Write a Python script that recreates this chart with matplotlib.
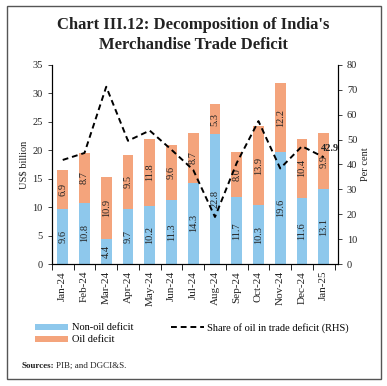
import numpy as np
import matplotlib.pyplot as plt
from matplotlib.patches import Rectangle

months = ['Jan-24', 'Feb-24', 'Mar-24', 'Apr-24', 'May-24', 'Jun-24', 'Jul-24',
          'Aug-24', 'Sep-24', 'Oct-24', 'Nov-24', 'Dec-24', 'Jan-25']
non_oil = [9.6, 10.8, 4.4, 9.7, 10.2, 11.3, 14.3, 22.8, 11.7, 10.3, 19.6, 11.6, 13.1]
oil = [6.9, 8.7, 10.9, 9.5, 11.8, 9.6, 8.7, 5.3, 8.0, 13.9, 12.2, 10.4, 9.9]
oil_share = [41.8, 44.6, 71.2, 49.5, 53.6, 45.9, 37.8, 18.9, 40.6, 57.4, 38.4, 47.3, 42.9]

plt.rcParams['font.family'] = ['Liberation Serif', 'DejaVu Serif']

blue = '#8ec8ec'
orange = '#f4a47c'
txt = '#222222'

fig = plt.figure(figsize=(3.87, 3.86), dpi=100)
fig.patches.append(Rectangle((0.018, 0.018), 0.967, 0.966, transform=fig.transFigure,
                             fill=False, edgecolor='#555555', lw=1.0))

fig.text(0.5, 0.91, "Chart III.12: Decomposition of India's\nMerchandise Trade Deficit",
         ha='center', va='center', fontsize=12, fontweight='bold', color=txt,
         linespacing=1.3)

ax = fig.add_axes([0.134, 0.316, 0.739, 0.516])
x = np.arange(len(months))
b1 = ax.bar(x, non_oil, width=0.5, color=blue, label='Non-oil deficit')
b2 = ax.bar(x, oil, width=0.5, bottom=non_oil, color=orange, label='Oil deficit')
ax.bar_label(b1, labels=[f'{v:.1f}' for v in non_oil], label_type='center',
             rotation=90, fontsize=7.5, color=txt)
ax.bar_label(b2, labels=[f'{v:.1f}' for v in oil], label_type='center',
             rotation=90, fontsize=7.5, color=txt)

ax.set_xlim(-0.5, 12.65)
ax.set_ylim(0, 35)
ax.set_yticks(range(0, 36, 5))
ax.set_xticks(x)
ax.set_xticklabels(months, rotation=90, fontsize=8, color=txt)
ax.set_xticks(np.arange(-0.5, 12.6, 1), minor=True)
ax.tick_params(axis='x', which='major', length=0, pad=5)
ax.tick_params(axis='x', which='minor', length=4, width=0.6, direction='out')
ax.tick_params(axis='y', labelsize=7.5, length=3, width=0.6, colors=txt)
ax.set_ylabel('US$ billion', fontsize=7.5, color=txt, labelpad=3)
ax.spines['top'].set_visible(False)
for s in ['left', 'bottom', 'right']:
    ax.spines[s].set_linewidth(0.8)

ax2 = ax.twinx()
ln, = ax2.plot(x, oil_share, color='black', ls='--', lw=1.4, dashes=(3, 2),
               label='Share of oil in trade deficit (RHS)')
ax2.set_ylim(0, 80)
ax2.set_yticks(range(0, 81, 10))
ax2.tick_params(axis='y', labelsize=7.5, length=3, width=0.6, colors=txt)
ax2.set_ylabel('Per cent', fontsize=7.5, color=txt, labelpad=3)
ax2.spines['top'].set_visible(False)
ax2.spines['right'].set_linewidth(0.8)
ax2.text(x[-1] + 0.3, oil_share[-1] + 1.5, f'{oil_share[-1]:.1f}', fontsize=7.5,
         fontweight='bold', color=txt, ha='center', va='bottom')

fig.legend(handles=[b1, b2, ln],
           labels=['Non-oil deficit', 'Oil deficit', 'Share of oil in trade deficit (RHS)'],
           loc='upper left', bbox_to_anchor=(0.08, 0.175), ncol=2, frameon=False,
           fontsize=7.5, handlelength=3.2, handleheight=0.5, columnspacing=3.6,
           labelspacing=0.3, handletextpad=0.3, borderaxespad=0)

fig.text(0.055, 0.052, 'Sources:', fontsize=6.5, fontweight='bold', color=txt, va='center')
fig.text(0.145, 0.052, 'PIB; and DGCI&S.', fontsize=6.5, color=txt, va='center')

fig.savefig('out.png', dpi=100)
